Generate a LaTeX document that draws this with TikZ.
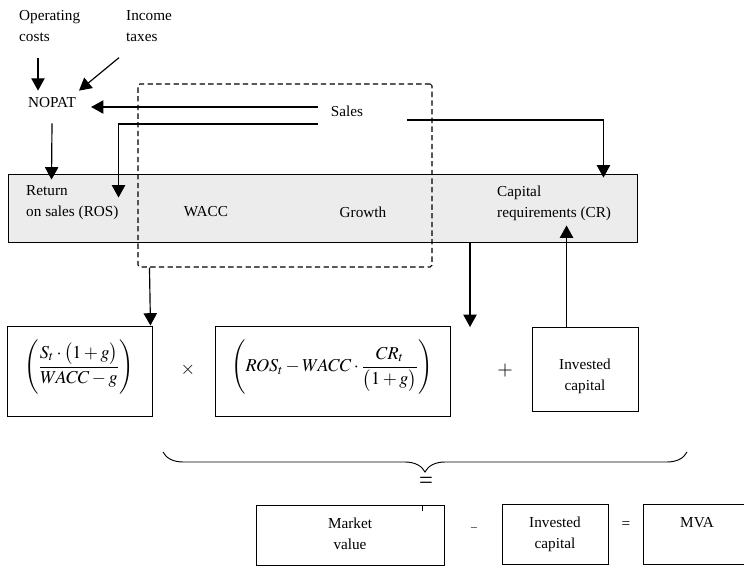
\documentclass[tikz,border=0pt]{standalone}
\usepackage{mathptmx}
\usepackage{fontspec}
\setmainfont{Liberation Serif}
\usetikzlibrary{arrows.meta, calc, fit, decorations.pathreplacing}

\begin{document}
\begin{tikzpicture}[x=0.03cm, y=-0.03cm,
    every node/.style={font=\fontsize{13}{18}\selectfont},
    lbl/.style={inner sep=0pt, align=left},
    txt/.style={inner sep=0pt, align=center},
    box/.style={draw, line width=0.8pt, inner sep=0pt},
    frm/.style={txt, font=\fontsize{15.5}{19}\selectfont},
    arr/.style={-{Triangle[length=0.37cm, width=0.4cm]}, line width=1pt}]
    \clip (0,0) rectangle (744,566);

    \node[box, fill=gray!15, fit={(8,174) (637,242)}] (drv) {};
    \node[draw, line width=0.9pt, dash pattern=on 0.16cm off 0.1cm, rounded corners=1.5pt, inner sep=0pt, fit={(138,84) (432,267)}] (grp) {};

    \node[lbl, anchor=north west] (opc) at (19,10) {Operating\\costs};
    \node[lbl, anchor=north west] (inct) at (126,10) {Income\\taxes};
    \node[lbl] (nopat) at (52,103) {NOPAT};
    \node[lbl] (sales) at (347,111) {Sales};
    \node[lbl, anchor=west] (ros) at (26,203) {Return\\on sales (ROS)};
    \node[lbl] (wacc) at (206,212) {WACC};
    \node[lbl] (growth) at (363,212) {Growth};
    \node[lbl, anchor=west] (cr) at (497,203) {Capital\\requirements (CR)};

    \node[box, fit={(7,326) (152,416)}] (f1) {};
    \node[frm] (f1t) at (79,367) {$\displaystyle\left(\frac{S_t\cdot\bigl(1+g\bigr)}{WACC-g}\right)$};
    \node[lbl, font=\fontsize{16}{16}\selectfont] (times) at (188,370) {$\times$};
    \node[box, fit={(215,326) (450,416)}] (f2) {};
    \node[frm] (f2t) at (332,367) {$\displaystyle\left(ROS_t-WACC\cdot\frac{CR_t}{\bigl(1+g\bigr)}\right)$};
    \node[lbl, font=\fontsize{17}{17}\selectfont] (plus) at (505,371) {$+$};
    \node[box, fit={(532,327) (638,411)}] (ic1) {};
    \node[txt] (ic1t) at (585,376) {Invested\\capital};

    \draw[line width=0.8pt, decorate, decoration={brace, amplitude=0.6cm, mirror}] (163,452) -- (687,452);
    \node[lbl, font=\fontsize{21}{21}\selectfont] (eq) at (426,483) {=};

    \node[box, fit={(256,505) (444,565)}] (mv) {};
    \node[txt] (mvt) at (350,534) {Market\\value};
    \node[lbl, font=\fontsize{10}{10}\selectfont] (minus) at (474,529) {–};
    \node[box, fit={(502,504) (608,564)}] (ic2) {};
    \node[txt] (ic2t) at (555,534) {Invested\\capital};
    \node[lbl] (eq2) at (626,525) {=};
    \node[box, fit={(643,504) (752,564)}] (mva) {};
    \node[lbl] (mvat) at (697,523) {MVA};

    \coordinate (gap) at (470,327);
    \coordinate (tick) at (422,511);

    \draw[arr] ($(opc.south west)+(19,16)$) -- ($(nopat.north)+(-14,-7)$);
    \draw[arr] ($(inct.south west)+(-7,16)$) -- ($(nopat.north)+(27,-7)$);
    \draw[arr] ($(nopat.south)+(0,15)$) -- ($(drv.north west)+(44,6)$);
    \draw[arr] ($(sales.west)+(-13,-4)$) -- ($(nopat.east)+(15,4)$);
    \draw[arr] ($(sales.west)+(-13,13)$) -| ($(drv.north west)+(111,24)$);
    \draw[arr] ($(sales.east)+(44,9)$) -| ($(drv.north east)+(-34,4)$);
    \draw[arr] ($(grp.south west)+(12,0)$) -- ($(f1.north east)+(-2,0)$);
    \draw[arr] (drv.south -| gap) -- (gap);
    \draw[arr] ($(ic1.north west)+(35,0)$) -- ($(drv.south west)+(559,-17)$);
    \draw[line width=0.8pt] (tick) -- (tick |- mv.north);
\end{tikzpicture}
\end{document}
